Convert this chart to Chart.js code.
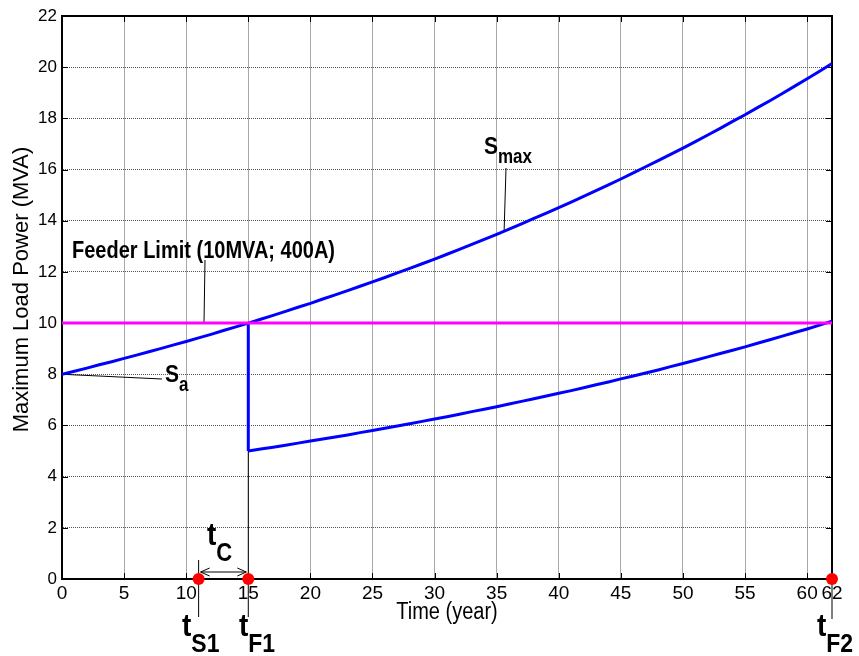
<!DOCTYPE html>
<html>
<head>
<meta charset="utf-8">
<script src="https://cdn.jsdelivr.net/npm/chart.js@4.4.1/dist/chart.umd.min.js"></script>
<style>
  html, body { margin: 0; padding: 0; background: #fff; }
</style>
</head>
<body>
<canvas id="mycanvas" width="859" height="656"></canvas>
<script>
// load growth over time (MVA)
var years = [0, 1, 2, 3, 4, 5, 6, 7, 8, 9,
  10, 11, 12, 13, 14, 15, 16, 17, 18, 19,
  20, 21, 22, 23, 24, 25, 26, 27, 28, 29,
  30, 31, 32, 33, 34, 35, 36, 37, 38, 39,
  40, 41, 42, 43, 44, 45, 46, 47, 48, 49,
  50, 51, 52, 53, 54, 55, 56, 57, 58, 59,
  60, 61, 62];
var maxLoad = [8.00, 8.12, 8.24, 8.37, 8.49, 8.62, 8.75, 8.88, 9.01, 9.15,
  9.28, 9.42, 9.56, 9.71, 9.85, 10.00, 10.15, 10.30, 10.46, 10.62,
  10.77, 10.94, 11.10, 11.27, 11.44, 11.61, 11.78, 11.96, 12.14, 12.32,
  12.50, 12.69, 12.88, 13.08, 13.27, 13.47, 13.67, 13.88, 14.09, 14.30,
  14.51, 14.73, 14.95, 15.18, 15.40, 15.63, 15.87, 16.11, 16.35, 16.59,
  16.84, 17.09, 17.35, 17.61, 17.88, 18.14, 18.42, 18.69, 18.97, 19.26,
  19.55, 19.84, 20.14];

// load on the old feeder after the split at year 15
var splitYears = years.slice(15);
var splitLoad = [5.00, 5.08, 5.15, 5.23, 5.31, 5.39, 5.47, 5.55, 5.63, 5.72,
  5.80, 5.89, 5.98, 6.07, 6.16, 6.25, 6.34, 6.44, 6.54, 6.63,
  6.73, 6.84, 6.94, 7.04, 7.15, 7.26, 7.36, 7.47, 7.59, 7.70,
  7.82, 7.93, 8.05, 8.17, 8.30, 8.42, 8.55, 8.68, 8.81, 8.94,
  9.07, 9.21, 9.35, 9.49, 9.63, 9.77, 9.92, 10.07];
var dropYears = [15, 15];
var dropLoad = [10, 5];

var limitYears = [0, 62];
var limitLoad = [10, 10];

// t_S1, t_F1, t_F2
var markerYears = [11, 15, 62];
var markerLoad = [0, 0, 0];

var xTicks = [0, 5, 10, 15, 20, 25, 30, 35, 40, 45, 50, 55, 60, 62];
var yTicks = [0, 2, 4, 6, 8, 10, 12, 14, 16, 18, 20, 22];

function toPoints(xs, ys) {
  var pts = [];
  for (var i in xs) {
    pts.push({x: xs[i], y: ys[i]});
  }
  return pts;
}

var FONT = "'Liberation Sans', Arial, sans-serif";
var NARROW = "'Liberation Sans Narrow', 'Arial Narrow', 'Liberation Sans', sans-serif";
var STRETCH = 1.15;

function line(ctx, x1, y1, x2, y2) {
  ctx.beginPath();
  ctx.moveTo(x1, y1);
  ctx.lineTo(x2, y2);
  ctx.stroke();
}

// text drawn a bit taller than wide, anchored on its baseline
function tallText(ctx, str, x, y) {
  ctx.save();
  ctx.translate(x, y);
  ctx.scale(1, STRETCH);
  ctx.fillText(str, 0, 0);
  ctx.restore();
}

// bold label with a subscript, MATLAB style
function subLabel(ctx, main, sub, x, y, size, subSize, drop) {
  ctx.font = 'bold ' + size + 'px ' + FONT;
  tallText(ctx, main, x, y);
  var w = ctx.measureText(main).width;
  ctx.font = 'bold ' + subSize + 'px ' + FONT;
  tallText(ctx, sub, x + w, y + drop);
}

var decorations = {
  id: 'decorations',
  beforeDatasetsDraw: function(chart) {
    var ctx = chart.ctx, a = chart.chartArea;
    var sx = chart.scales.x, sy = chart.scales.y;
    var px = function(v) { return sx.getPixelForValue(v); };
    var py = function(v) { return sy.getPixelForValue(v); };
    ctx.save();

    // box around the axes
    ctx.strokeStyle = '#000';
    ctx.lineWidth = 2;
    ctx.strokeRect(a.left, a.top, a.right - a.left, a.bottom - a.top);

    // inward tick marks
    ctx.lineWidth = 1;
    xTicks.forEach(function(v) {
      var x = Math.round(px(v)) + 0.5;
      line(ctx, x, a.bottom, x, a.bottom - 6);
      line(ctx, x, a.top, x, a.top + 6);
    });
    yTicks.forEach(function(v) {
      var y = Math.round(py(v)) + 0.5;
      line(ctx, a.left, y, a.left + 6, y);
      line(ctx, a.right, y, a.right - 6, y);
    });

    // leader lines
    line(ctx, px(11), a.bottom - 19, px(11), a.bottom + 38);
    line(ctx, px(15), py(5), px(15), a.bottom + 38);
    line(ctx, px(62), a.bottom, px(62), a.bottom + 40);
    line(ctx, px(0), py(8), 162, 379);
    line(ctx, 205, 260, 204, py(10));
    line(ctx, 506, 168, px(35.6), py(13.62));

    // t_C double arrow
    var ay = a.bottom - 7;
    var x1 = px(11) + 2, x2 = px(15) - 2;
    line(ctx, x1, ay, x2, ay);
    line(ctx, x1, ay, x1 + 9, ay - 4);
    line(ctx, x1, ay, x1 + 9, ay + 4);
    line(ctx, x2, ay, x2 - 9, ay - 4);
    line(ctx, x2, ay, x2 - 9, ay + 4);
    ctx.restore();
  },
  afterDraw: function(chart) {
    var ctx = chart.ctx, a = chart.chartArea;
    ctx.save();
    ctx.fillStyle = '#000';
    ctx.textAlign = 'left';
    ctx.textBaseline = 'alphabetic';

    ctx.font = 'bold 20px ' + FONT;
    tallText(ctx, 'Feeder Limit (10MVA; 400A)', 72, 258);

    subLabel(ctx, 'S', 'max', 484, 154, 21, 17, 9);
    subLabel(ctx, 'S', 'a', 165, 382, 21, 17, 9);
    subLabel(ctx, 't', 'C', 207, 545, 28, 22, 16);
    subLabel(ctx, 't', 'S1', 182, 636, 28, 23, 16);
    subLabel(ctx, 't', 'F1', 239, 636, 28, 23, 16);
    subLabel(ctx, 't', 'F2', 817, 636, 28, 23, 16);

    // axis titles
    ctx.font = '20px ' + FONT;
    ctx.textAlign = 'center';
    tallText(ctx, 'Time (year)', (a.left + a.right) / 2, 619);
    ctx.save();
    ctx.translate(28, (a.top + a.bottom) / 2 - 8);
    ctx.rotate(-Math.PI / 2);
    ctx.font = '22px ' + FONT;
    ctx.fillText('Maximum Load Power (MVA)', 0, 0);
    ctx.restore();
    ctx.restore();
  }
};

var ctx = document.getElementById('mycanvas');

var LineGraph = new Chart(ctx, {
  type: 'line',
  data: {
    datasets: [
      {
        label: 'Feeder limit',
        data: toPoints(limitYears, limitLoad),
        borderColor: '#ff00ff',
        borderWidth: 3,
        pointRadius: 0,
        order: 1
      },
      {
        label: 'Smax',
        data: toPoints(years, maxLoad),
        borderColor: '#0000ff',
        borderWidth: 3,
        pointRadius: 0,
        order: 2
      },
      {
        label: 'Sa drop',
        data: toPoints(dropYears, dropLoad),
        borderColor: '#0000ff',
        borderWidth: 3,
        pointRadius: 0,
        order: 2
      },
      {
        label: 'Sa',
        data: toPoints(splitYears, splitLoad),
        borderColor: '#0000ff',
        borderWidth: 3,
        pointRadius: 0,
        order: 2
      },
      {
        label: 'Events',
        data: toPoints(markerYears, markerLoad),
        showLine: false,
        pointRadius: 6,
        pointBackgroundColor: '#ff0000',
        pointBorderWidth: 0,
        clip: false,
        order: 0
      }
    ]
  },
  options: {
    responsive: false,
    animation: false,
    layout: { padding: { left: 0, top: 16, right: 27, bottom: 0 } },
    plugins: {
      legend: { display: false },
      tooltip: { enabled: false }
    },
    scales: {
      x: {
        type: 'linear',
        min: 0,
        max: 62,
        afterBuildTicks: function(scale) {
          scale.ticks = xTicks.map(function(v) { return {value: v}; });
        },
        afterFit: function(scale) { scale.height = 77; },
        ticks: {
          color: '#000',
          padding: 3,
          maxRotation: 0,
          autoSkip: false,
          font: { family: NARROW, size: 19 }
        },
        grid: { color: '#a8a8a8', lineWidth: 1, drawTicks: false },
        border: { color: '#000', width: 2 }
      },
      y: {
        type: 'linear',
        min: 0,
        max: 22,
        afterBuildTicks: function(scale) {
          scale.ticks = yTicks.map(function(v) { return {value: v}; });
        },
        afterFit: function(scale) { scale.width = 62; },
        ticks: {
          color: '#000',
          padding: 5,
          font: { family: FONT, size: 17 }
        },
        grid: { color: '#555', lineWidth: 1, drawTicks: false },
        border: { color: '#000', width: 2, dash: [1, 1] }
      }
    }
  },
  plugins: [decorations]
});
</script>
</body>
</html>
